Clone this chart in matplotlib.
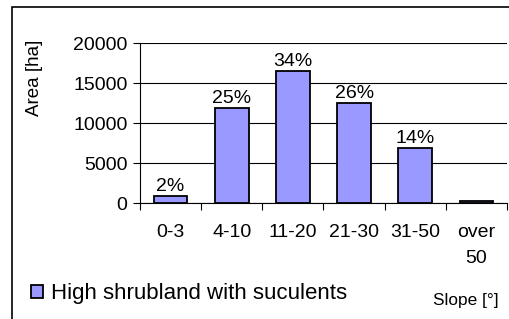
import numpy as np
import matplotlib.pyplot as plt
from matplotlib.patches import Rectangle

categories = ['0-3', '4-10', '11-20', '21-30', '31-50', 'over\n50']
area_ha = [880, 11900, 16500, 12500, 6850, 200]
pct_labels = ['2%', '25%', '34%', '26%', '14%', '']

plt.rcParams['font.family'] = ['Liberation Sans', 'DejaVu Sans']

fig = plt.figure(figsize=(5.1, 3.19), dpi=100)
ax = fig.add_axes([140/510, 1-203/319, 367/510, 160/319])

x = np.arange(len(categories))
bars = ax.bar(x, area_ha, width=0.55, color='#9999FF', edgecolor='black',
              linewidth=1.3, zorder=3, label='High shrubland with suculents')

for b, lab in zip(bars, pct_labels):
    ax.text(b.get_x() + b.get_width()/2, b.get_height() + 150, lab,
            ha='center', va='bottom', fontsize=14)

ax.set_xlim(-0.5, 5.5)
ax.set_ylim(0, 20000)
ax.set_yticks([0, 5000, 10000, 15000, 20000])
ax.tick_params(axis='y', labelsize=14, length=5, width=0.8, pad=4)

# category boundaries as ticks, labels in the middle
ax.set_xticks(np.arange(-0.5, 6, 1))
ax.set_xticklabels([])
ax.tick_params(axis='x', which='major', length=5, width=0.8)
ax.set_xticks(x, minor=True)
ax.set_xticklabels(categories, minor=True, fontsize=14, linespacing=1.7)
ax.tick_params(axis='x', which='minor', length=0, pad=15)

ax.grid(axis='y', color='black', linewidth=0.8, zorder=0)
for s in ['top', 'right']:
    ax.spines[s].set_visible(False)
ax.spines['left'].set_linewidth(0.8)
ax.spines['bottom'].set_linewidth(0.8)

ax.set_ylabel('Area [ha]', fontsize=13.5, labelpad=6)
ax.yaxis.set_label_coords(-0.265, 0.78)

fig.legend(handles=[bars], labels=['High shrubland with suculents'],
           loc='center left', bbox_to_anchor=(31/510, 1-294/319),
           frameon=False, fontsize=16, handlelength=0.55, handleheight=0.55,
           handletextpad=0.35, borderpad=0, borderaxespad=0)

fig.text(433/510, 1-300/319, 'Slope [°]', fontsize=12.4, va='center', ha='left')

fig.patches.append(Rectangle((12/510, -0.1), 1.2, 1.1 - 7/319,
                             transform=fig.transFigure, fill=False,
                             edgecolor='black', linewidth=1.2))

fig.savefig('out.png', dpi=100)
